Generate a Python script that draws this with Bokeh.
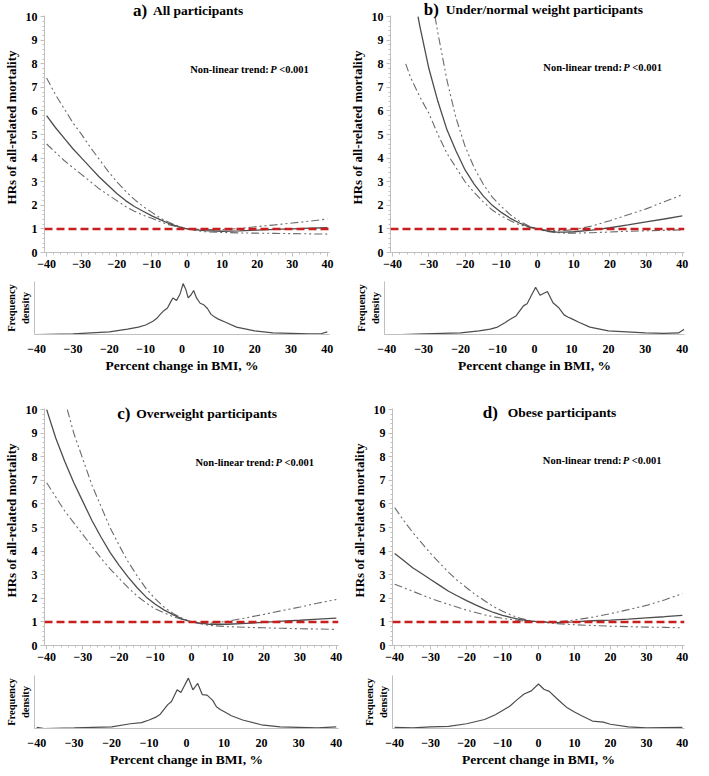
from bokeh.plotting import figure
from bokeh.layouts import column, row
from bokeh.models import Label, Span, SingleIntervalTicker, FixedTicker, Range1d
from bokeh.embed import file_html
from bokeh.resources import INLINE

# ---------------- data ----------------
X_LEFT = [-40, -37.5, -35, -32.5, -30, -27.5, -25, -22.5, -20, -17.5, -15, -12.5,
          -10, -7.5, -5, -2.5, 0, 5, 10, 15, 20, 25, 30, 35, 40]
X_TICKS = [-40, -30, -20, -10, 0, 10, 20, 30, 40]

# a) All participants
a_hr = [5.8, 5.3, 4.85, 4.4, 4.0, 3.6, 3.2, 2.85, 2.5, 2.2, 1.95, 1.75,
        1.55, 1.38, 1.22, 1.1, 1.0, 0.93, 0.9, 0.92, 0.95, 0.98, 1.0, 1.03, 1.05]
a_hi = [7.4, 6.7, 6.1, 5.5, 5.0, 4.45, 3.95, 3.45, 3.0, 2.6, 2.25, 1.95,
        1.7, 1.45, 1.27, 1.12, 1.0, 0.97, 0.97, 1.02, 1.1, 1.17, 1.25, 1.33, 1.42]
a_lo = [4.6, 4.25, 3.9, 3.6, 3.3, 3.0, 2.7, 2.45, 2.2, 1.95, 1.75, 1.58,
        1.45, 1.3, 1.17, 1.08, 1.0, 0.88, 0.85, 0.83, 0.82, 0.81, 0.8, 0.79, 0.78]

# b) Under/normal weight participants
b_hr_x = [-33, -32.5, -30, -27.5, -25, -22.5, -20, -17.5, -15, -12.5, -10, -7.5, -5, -2.5,
          0, 2.5, 5, 7.5, 10, 15, 20, 25, 30, 35, 40]
b_hr = [10.0, 9.6, 7.8, 6.4, 5.2, 4.3, 3.5, 2.9, 2.4, 2.0, 1.7, 1.45, 1.25, 1.1,
        1.0, 0.92, 0.87, 0.86, 0.88, 0.95, 1.05, 1.17, 1.3, 1.42, 1.55]
b_hi_x = [-28.3, -27.5, -25, -22.5, -20, -17.5, -15, -12.5, -10, -7.5, -5, -2.5,
          0, 2.5, 5, 7.5, 10, 15, 20, 25, 30, 35, 40]
b_hi = [10.0, 9.3, 7.3, 5.7, 4.5, 3.6, 2.9, 2.35, 1.95, 1.6, 1.33, 1.13,
        1.0, 0.95, 0.93, 0.93, 0.97, 1.12, 1.35, 1.6, 1.85, 2.15, 2.45]
b_lo_x = [-36.4, -35, -32.5, -30, -27.5, -25, -22.5, -20, -17.5, -15, -12.5, -10, -7.5, -5, -2.5,
          0, 2.5, 5, 7.5, 10, 15, 20, 25, 30, 35, 40]
b_lo = [8.0, 7.4, 6.6, 5.9, 5.0, 4.2, 3.6, 3.0, 2.55, 2.15, 1.8, 1.55, 1.35, 1.18, 1.07,
        1.0, 0.9, 0.85, 0.82, 0.82, 0.84, 0.87, 0.9, 0.92, 0.94, 0.96]

# c) Overweight participants
c_hr = [10.0, 8.8, 7.8, 6.9, 6.1, 5.3, 4.6, 3.95, 3.4, 2.9, 2.45, 2.05,
        1.75, 1.5, 1.3, 1.12, 1.0, 0.9, 0.9, 0.94, 0.98, 1.03, 1.07, 1.12, 1.16]
c_hi_x = [-34.3, -32.5, -30, -27.5, -25, -22.5, -20, -17.5, -15, -12.5, -10, -7.5, -5, -2.5,
          0, 2.5, 5, 7.5, 10, 15, 20, 25, 30, 35, 40]
c_hi = [10.0, 9.0, 7.9, 6.8, 5.9, 5.0, 4.25, 3.55, 2.95, 2.4, 1.98, 1.62, 1.35, 1.15,
        1.0, 0.95, 0.95, 0.98, 1.03, 1.17, 1.32, 1.48, 1.63, 1.8, 1.95]
c_lo = [6.9, 6.3, 5.7, 5.2, 4.7, 4.2, 3.7, 3.25, 2.85, 2.45, 2.1, 1.8,
        1.55, 1.38, 1.22, 1.1, 1.0, 0.85, 0.8, 0.77, 0.75, 0.73, 0.71, 0.7, 0.68]

# d) Obese participants
d_hr = [3.9, 3.6, 3.3, 3.05, 2.8, 2.55, 2.3, 2.1, 1.9, 1.72, 1.55, 1.4,
        1.28, 1.18, 1.1, 1.04, 1.0, 0.97, 1.0, 1.05, 1.08, 1.12, 1.17, 1.22, 1.28]
d_hi = [5.85, 5.3, 4.8, 4.35, 3.9, 3.5, 3.1, 2.75, 2.45, 2.15, 1.9, 1.65,
        1.45, 1.28, 1.15, 1.06, 1.0, 1.0, 1.08, 1.2, 1.35, 1.52, 1.7, 1.93, 2.2]
d_lo = [2.6, 2.45, 2.3, 2.15, 2.0, 1.87, 1.74, 1.62, 1.5, 1.4, 1.3, 1.22,
        1.15, 1.1, 1.05, 1.02, 1.0, 0.93, 0.88, 0.85, 0.82, 0.8, 0.78, 0.77, 0.75]

# frequency density (relative)
a_den_x = [-40, -30, -25, -20, -15, -12, -10, -8, -7, -6, -5, -4, -3, -2.5, -1.5, -0.5,
           0.3, 1, 1.7, 2.5, 3.2, 4, 5, 6, 7, 8, 9, 10, 12, 15, 20, 25, 30, 35, 38, 40]
a_den = [0.0, 0.01, 0.03, 0.05, 0.1, 0.14, 0.18, 0.25, 0.3, 0.38, 0.45, 0.5, 0.63, 0.69,
         0.64, 0.77, 0.96, 0.86, 0.69, 0.75, 0.83, 0.69, 0.59, 0.56, 0.49, 0.38, 0.33,
         0.29, 0.23, 0.14, 0.07, 0.03, 0.02, 0.01, 0.01, 0.05]
b_den_x = [-36, -30, -20, -15, -12, -10, -8, -7, -6, -5, -3, -2, -1.2, 0.3, 1.5, 3.5, 5,
           6.5, 8, 9, 10, 12, 15, 20, 25, 30, 35, 39, 40.5]
b_den = [0.0, 0.01, 0.03, 0.07, 0.1, 0.14, 0.22, 0.27, 0.31, 0.35, 0.54, 0.58, 0.69,
         0.89, 0.74, 0.81, 0.6, 0.51, 0.37, 0.33, 0.3, 0.23, 0.14, 0.07, 0.05, 0.03,
         0.02, 0.03, 0.1]
c_den_x = [-40, -38, -30, -20, -15, -12, -10, -8, -7, -6, -5, -4, -2.5, -1.5, 0.5, 1.7,
           3, 4.2, 5.5, 7, 8, 9, 10, 12, 15, 20, 25, 30, 35, 40]
c_den = [0.02, 0.0, 0.01, 0.03, 0.09, 0.11, 0.16, 0.22, 0.27, 0.36, 0.45, 0.51, 0.73,
         0.68, 0.95, 0.73, 0.85, 0.64, 0.63, 0.53, 0.41, 0.36, 0.32, 0.24, 0.16, 0.07,
         0.03, 0.02, 0.01, 0.03]
d_den_x = [-40, -35, -30, -25, -20, -15, -12, -10, -8, -6, -4, -2, 0, 1.5, 3, 5, 6, 8,
           10, 12, 15, 18, 20, 25, 30, 40]
d_den = [0.02, 0.01, 0.03, 0.04, 0.09, 0.17, 0.26, 0.34, 0.42, 0.54, 0.65, 0.71, 0.84,
         0.74, 0.7, 0.57, 0.51, 0.39, 0.31, 0.24, 0.14, 0.12, 0.08, 0.03, 0.01, 0.02]

REF_HR = 1.0
TITLES = [("a)", "All participants"), ("b)", "Under/normal weight participants"),
          ("c)", "Overweight participants"), ("d)", "Obese participants")]
TREND = ("Non-linear trend:", "P", "<0.001")
Y_LABEL = "HRs of all-related mortality"
X_LABEL = "Percent change in BMI, %"
DEN_LABEL = "Frequency\ndensity"

# ---------------- style ----------------
FONT = "Liberation Serif"
AX = "#bfbfbf"
CURVE = "#4d4d4d"
CI = "#6b6b6b"
RED = "#c81e1e"
CI_DASH = "8 3 2 3 2 3"
HR_FRAME_H = 250
Y_TOP = 10.6


def style_common(p):
    p.toolbar_location = None
    p.outline_line_color = None
    p.xgrid.visible = False
    p.ygrid.visible = False
    p.background_fill_color = "white"
    p.border_fill_color = "white"


def make_hr(cfg, curves, title, title_pos, trend_pos, title_off):
    left, fw, right, top = cfg
    bottom = 22
    p = figure(width=left + fw + right, height=top + HR_FRAME_H + bottom,
               x_range=Range1d(-40.6, 40.6), y_range=Range1d(0, Y_TOP),
               output_backend="svg", toolbar_location=None,
               min_border_left=left, min_border_right=right,
               min_border_top=top, min_border_bottom=bottom)
    style_common(p)
    for (xs, ys, kind) in curves:
        if kind == "hr":
            p.line(xs, ys, line_color=CURVE, line_width=1.3)
        else:
            p.line(xs, ys, line_color=CI, line_width=1.1, line_dash=CI_DASH)
    p.add_layout(Span(location=REF_HR, dimension="width", line_color=RED,
                      line_width=2.5, line_dash="8 4"))
    xa = p.xaxis[0]
    xa.ticker = SingleIntervalTicker(interval=10, num_minor_ticks=5)
    ya = p.yaxis[0]
    ya.ticker = SingleIntervalTicker(interval=1, num_minor_ticks=5)
    ya.bounds = (0, 10.05)
    for ax in (xa, ya):
        ax.axis_line_color = AX
        ax.major_tick_line_color = AX
        ax.minor_tick_line_color = AX
        ax.major_tick_in = 0
        ax.major_tick_out = 4
        ax.minor_tick_in = 0
        ax.minor_tick_out = 2
        ax.major_label_text_font = FONT
        ax.major_label_text_font_style = "bold"
        ax.major_label_text_font_size = "12px"
        ax.major_label_text_color = "black"
        ax.major_label_standoff = 3
    ya.axis_label = Y_LABEL
    ya.axis_label_text_font = FONT
    ya.axis_label_text_font_style = "bold"
    ya.axis_label_text_font_size = "13px"
    ya.axis_label_text_color = "black"
    ya.axis_label_standoff = 4
    # title
    tx, ty = title_pos
    p.add_layout(Label(x=tx, y=ty, text=title[0], text_font=FONT, text_font_style="bold",
                       text_font_size="17px", text_baseline="middle", text_color="black"))
    p.add_layout(Label(x=tx, y=ty, x_offset=title_off, text=title[1], text_font=FONT,
                       text_font_style="bold", text_font_size="13.5px",
                       text_baseline="middle", text_color="black"))
    # trend annotation
    nx, ny = trend_pos
    for txt, off, style in ((TREND[0], 0, "bold"), (TREND[1], 80, "bold italic"),
                            (TREND[2], 89, "bold")):
        p.add_layout(Label(x=nx, y=ny, x_offset=off, text=txt, text_font=FONT,
                           text_font_style=style, text_font_size="10.5px",
                           text_baseline="middle", text_color="black"))
    return p


def make_den(cfg, xs, ys, top):
    left, fw, right, _ = cfg
    bottom = 35
    p = figure(width=left + fw + right, height=top + 59 + bottom,
               x_range=Range1d(-40.6, 40.6), y_range=Range1d(0, 1.0),
               output_backend="svg", toolbar_location=None,
               min_border_left=left, min_border_right=right,
               min_border_top=top, min_border_bottom=bottom)
    style_common(p)
    p.line(xs, ys, line_color=CURVE, line_width=1.2)
    xa = p.xaxis[0]
    xa.ticker = FixedTicker(ticks=X_TICKS)
    xa.axis_line_color = AX
    xa.major_tick_line_color = None
    xa.minor_tick_line_color = None
    xa.major_label_text_font = FONT
    xa.major_label_text_font_style = "bold"
    xa.major_label_text_font_size = "12px"
    xa.major_label_text_color = "black"
    xa.major_label_standoff = 4
    xa.axis_label = X_LABEL
    xa.axis_label_text_font = FONT
    xa.axis_label_text_font_style = "bold"
    xa.axis_label_text_font_size = "13.5px"
    xa.axis_label_text_color = "black"
    xa.axis_label_standoff = 2
    ya = p.yaxis[0]
    ya.ticker = FixedTicker(ticks=[])
    ya.axis_line_color = AX
    ya.major_tick_line_color = None
    ya.minor_tick_line_color = None
    ya.major_label_text_font_size = "0px"
    ya.axis_label = DEN_LABEL
    ya.axis_label_text_font = FONT
    ya.axis_label_text_font_style = "bold"
    ya.axis_label_text_font_size = "10.5px"
    ya.axis_label_text_color = "black"
    ya.axis_label_standoff = 4
    return p


CFG_A = (34, 295, 17, 2)
CFG_B = (38, 300, 8, 2)
CFG_C = (34, 304, 8, 20)
CFG_D = (46, 292, 8, 20)

pa = make_hr(CFG_A, [(X_LEFT, a_hi, "ci"), (X_LEFT, a_lo, "ci"), (X_LEFT, a_hr, "hr")],
             TITLES[0], (-15.4, 10.26), (0.9, 7.75), 20)
pb = make_hr(CFG_B, [(b_hi_x, b_hi, "ci"), (b_lo_x, b_lo, "ci"), (b_hr_x, b_hr, "hr")],
             TITLES[1], (-31.4, 10.3), (1.6, 7.85), 22)
pc = make_hr(CFG_C, [(c_hi_x, c_hi, "ci"), (X_LEFT, c_lo, "ci"), (X_LEFT, c_hr, "hr")],
             TITLES[2], (-20.5, 9.83), (1.1, 7.75), 19)
pd = make_hr(CFG_D, [(X_LEFT, d_hi, "ci"), (X_LEFT, d_lo, "ci"), (X_LEFT, d_hr, "hr")],
             TITLES[3], (-15.5, 9.9), (1.2, 7.83), 25)

da = make_den(CFG_A, a_den_x, a_den, 7)
db = make_den(CFG_B, b_den_x, b_den, 7)
dc = make_den(CFG_C, c_den_x, c_den, 8)
dd = make_den(CFG_D, d_den_x, d_den, 8)

layout = column(row(pa, pb), row(da, db), row(pc, pd), row(dc, dd))
open("out.html", "w").write(file_html(layout, INLINE))
